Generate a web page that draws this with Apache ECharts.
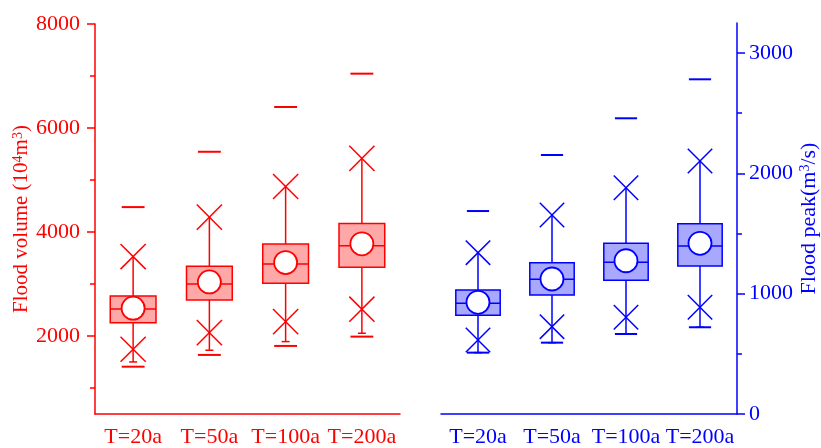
<!DOCTYPE html>
<html>
<head>
<meta charset="utf-8">
<title>Flood volume and flood peak by return period</title>
<script src="https://cdn.jsdelivr.net/npm/echarts@6/dist/echarts.min.js"></script>
<style>
  html, body { margin: 0; padding: 0; background: #fff; }
  #chart { width: 821px; height: 448px; }
</style>
</head>
<body>
<div id="chart"></div>
<script>
// Return periods
const categories = ['T=20a', 'T=50a', 'T=100a', 'T=200a'];

// Flood volume (10^4 m^3) statistics per return period
const volMin    = [1410, 1636, 1809, 1988];
const volLowCap = [1501, 1726, 1892, 2053];
const volP1     = [1745, 2065, 2277, 2515];
const volQ1     = [2257, 2694, 3016, 3323];
const volMedian = [2521, 3002, 3387, 3734];
const volMean   = [2535, 3040, 3412, 3772];
const volQ3     = [2771, 3343, 3767, 4164];
const volP99    = [3528, 4286, 4875, 5415];
const volMax    = [4479, 5543, 6404, 7045];

// Flood peak (m^3/s) statistics per return period
const peakMin    = [510, 593, 665, 721];
const peakLowCap = [510, 593, 665, 721];
const peakP1     = [615, 726, 804, 887];
const peakQ1     = [820, 989, 1111, 1230];
const peakMedian = [920, 1120, 1261, 1397];
const peakMean   = [928, 1122, 1274, 1419];
const peakQ3     = [1031, 1258, 1419, 1582];
const peakP99    = [1341, 1654, 1881, 2103];
const peakMax    = [1687, 2153, 2458, 2782];

// Axis tick values
const volMajorTicks  = [2000, 4000, 6000, 8000];
const volMinorTicks  = [1000, 3000, 5000, 7000];
const peakMajorTicks = [0, 1000, 2000, 3000];
const peakMinorTicks = [500, 1500, 2500];

const RED = '#ff0000';
const BLUE = '#0000ff';
const FONT = '"Liberation Serif", "Times New Roman", serif';
const plain = v => String(v);

function rows(mins, caps, p1, q1, med, mean, q3, p99, maxs) {
  return categories.map((c, i) => [i, mins[i], caps[i], p1[i], q1[i], med[i], mean[i], q3[i], p99[i], maxs[i]]);
}

function boxRenderer(color, fill) {
  return function (params, api) {
    const idx = api.value(0);
    const band = api.size([1, 0])[0];
    const x = api.coord([idx, 0])[0];
    const y = v => api.coord([idx, v])[1];
    const vMin = api.value(1), cap = api.value(2), p1 = api.value(3), q1 = api.value(4);
    const med = api.value(5), mean = api.value(6), q3 = api.value(7), p99 = api.value(8), vMax = api.value(9);
    const hb = band * 0.3;     // half box width
    const hd = band * 0.15;    // half dash width
    const hx = band * 0.165;   // half size of the cross marks
    const lw = 1.5;
    const line = (x1, y1, x2, y2, w) => ({ type: 'line', shape: { x1, y1, x2, y2 }, style: { stroke: color, lineWidth: w || lw } });
    const cross = (cy) => [
      line(x - hx, cy - hx, x + hx, cy + hx),
      line(x - hx, cy + hx, x + hx, cy - hx)
    ];
    const yq1 = y(q1), yq3 = y(q3), yMed = y(med);
    const children = [
      line(x, yq3, x, y(p99)),
      line(x, yq1, x, y(cap)),
      line(x - 4, y(cap), x + 4, y(cap)),
      { type: 'rect', shape: { x: x - hb, y: yq3, width: 2 * hb, height: yq1 - yq3 }, style: { fill: fill, stroke: color, lineWidth: lw } },
      line(x - hb, yMed, x + hb, yMed),
      { type: 'circle', shape: { cx: x, cy: y(mean), r: 11.5 }, style: { fill: '#ffffff', stroke: color, lineWidth: 1.8 } },
      ...cross(y(p1)),
      ...cross(y(p99)),
      line(x - hd, y(vMax), x + hd, y(vMax), 2),
      line(x - hd, y(vMin), x + hd, y(vMin), 2)
    ];
    return { type: 'group', children };
  };
}

function xAxisFor(gridIndex, color) {
  return {
    type: 'category', gridIndex, data: categories, boundaryGap: true,
    axisLine: { lineStyle: { color, width: 1.5 } },
    axisTick: { alignWithLabel: true, length: 7, lineStyle: { color, width: 1.5 } },
    axisLabel: { color, fontFamily: FONT, fontSize: 22, margin: 12, interval: 0 },
    splitLine: { show: false }
  };
}

const chart = echarts.init(document.getElementById('chart'), null, { renderer: 'canvas' });

chart.setOption({
  animation: false,
  backgroundColor: '#ffffff',
  grid: [
    { left: 95, right: 421, top: 24, bottom: 34 },
    { left: 441, right: 76, top: 23, bottom: 34 }
  ],
  xAxis: [xAxisFor(0, RED), xAxisFor(1, BLUE)],
  yAxis: [
    {
      type: 'value', gridIndex: 0, min: 500, max: 8000, position: 'left',
      name: 'Flood volume (10{sup|4}m{sup|3})', nameLocation: 'middle', nameRotate: 90, nameGap: 54,
      nameTextStyle: {
        color: RED, fontFamily: FONT, fontSize: 21,
        rich: { sup: { color: RED, fontFamily: FONT, fontSize: 14, verticalAlign: 'top', lineHeight: 21 } }
      },
      axisLine: { show: true, lineStyle: { color: RED, width: 1.5 } },
      axisTick: { show: true, length: 8, customValues: volMajorTicks, lineStyle: { color: RED, width: 1.5 } },
      axisLabel: { color: RED, fontFamily: FONT, fontSize: 22, margin: 15, customValues: volMajorTicks, formatter: plain },
      splitLine: { show: false }
    },
    {
      // minor ticks of the volume axis
      type: 'value', gridIndex: 0, min: 500, max: 8000, position: 'left',
      axisLine: { show: false },
      axisTick: { show: true, length: 5, customValues: volMinorTicks, lineStyle: { color: RED, width: 1.5 } },
      axisLabel: { show: false },
      splitLine: { show: false }
    },
    {
      type: 'value', gridIndex: 1, min: 0, max: 3250, position: 'right',
      name: 'Flood peak(m{sup|3}/s)', nameLocation: 'middle', nameRotate: 90, nameGap: 61,
      nameTextStyle: {
        color: BLUE, fontFamily: FONT, fontSize: 22,
        rich: { sup: { color: BLUE, fontFamily: FONT, fontSize: 14, verticalAlign: 'top', lineHeight: 22 } }
      },
      axisLine: { show: true, lineStyle: { color: BLUE, width: 1.5 } },
      axisTick: { show: true, length: 8, customValues: peakMajorTicks, lineStyle: { color: BLUE, width: 1.5 } },
      axisLabel: { color: BLUE, fontFamily: FONT, fontSize: 22, margin: 12, customValues: peakMajorTicks, formatter: plain },
      splitLine: { show: false }
    },
    {
      // minor ticks of the peak axis
      type: 'value', gridIndex: 1, min: 0, max: 3250, position: 'right',
      axisLine: { show: false },
      axisTick: { show: true, length: 5, customValues: peakMinorTicks, lineStyle: { color: BLUE, width: 1.5 } },
      axisLabel: { show: false },
      splitLine: { show: false }
    }
  ],
  series: [
    {
      type: 'custom', name: 'Flood volume', xAxisIndex: 0, yAxisIndex: 0,
      renderItem: boxRenderer(RED, 'rgba(255,0,0,0.34)'),
      encode: { x: 0, y: [1, 2, 3, 4, 5, 6, 7, 8, 9] },
      data: rows(volMin, volLowCap, volP1, volQ1, volMedian, volMean, volQ3, volP99, volMax)
    },
    {
      type: 'custom', name: 'Flood peak', xAxisIndex: 1, yAxisIndex: 2,
      renderItem: boxRenderer(BLUE, 'rgba(0,0,255,0.34)'),
      encode: { x: 0, y: [1, 2, 3, 4, 5, 6, 7, 8, 9] },
      data: rows(peakMin, peakLowCap, peakP1, peakQ1, peakMedian, peakMean, peakQ3, peakP99, peakMax)
    }
  ]
});
</script>
</body>
</html>
